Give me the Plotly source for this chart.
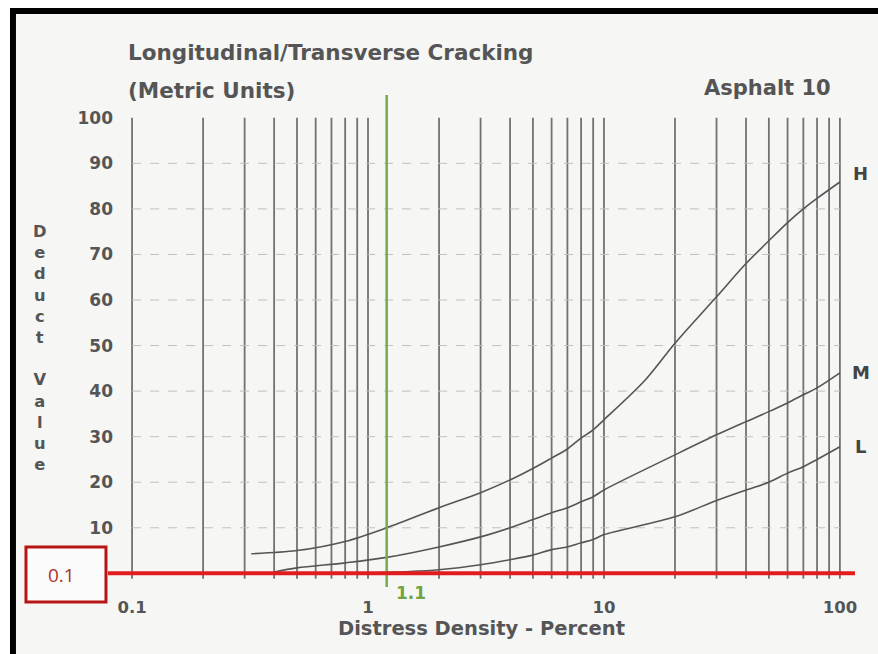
import plotly.graph_objects as go
import math

# ---- data ----
H_x = [0.32, 0.5, 0.8, 1.2, 2, 3, 4, 5, 6, 7, 8, 9, 10, 15, 20, 30, 40, 50, 60, 70, 80, 100]
H_y = [4.3, 5.0, 7.0, 10.0, 14.4, 17.7, 20.5, 23, 25.3, 27.3, 29.7, 31.5, 33.7, 42.5, 50.5, 60.7, 68, 73, 77, 80, 82.3, 85.9]
M_x = [0.4, 0.5, 0.8, 1.2, 2, 3, 4, 5, 6, 7, 8, 9, 10, 20, 30, 40, 50, 60, 70, 80, 100]
M_y = [0.3, 1.2, 2.3, 3.5, 5.8, 8, 10, 11.8, 13.3, 14.4, 15.7, 16.8, 18.3, 26, 30.4, 33.3, 35.5, 37.4, 39.2, 40.7, 44]
L_x = [1.0, 1.5, 2, 3, 4, 5, 6, 7, 8, 9, 10, 20, 30, 40, 50, 60, 70, 80, 100]
L_y = [0.1, 0.4, 0.8, 1.9, 3, 4, 5.2, 5.8, 6.7, 7.4, 8.5, 12.4, 16, 18.3, 20, 22, 23.4, 25, 27.8]

x_grid = [0.1, 0.2, 0.3, 0.4, 0.5, 0.6, 0.7, 0.8, 0.9, 1, 2, 3, 4, 5, 6, 7, 8, 9, 10,
          20, 30, 40, 50, 60, 70, 80, 90, 100]
x_tick_vals = [0.1, 1, 10, 100]
x_tick_text = ["0.1", "1", "10", "100"]
y_tick_vals = [10, 20, 30, 40, 50, 60, 70, 80, 90, 100]
y_grid = [10, 20, 30, 40, 50, 60, 70, 80, 90]

marker_x = 1.2       # green vertical line position
marker_x_label = "1.1"
marker_y = 0         # red horizontal line value
marker_y_label = "0.1"

FONT = "DejaVu Sans"
curve_color = "#555555"
grid_color = "#727272"
text_color = "#555555"

fig = go.Figure()
for xs, ys in [(H_x, H_y), (M_x, M_y), (L_x, L_y)]:
    fig.add_trace(go.Scatter(x=xs, y=ys, mode="lines",
                             line=dict(color=curve_color, width=1.6, shape="spline", smoothing=0.9),
                             showlegend=False, hoverinfo="skip"))

shapes = []
# background / frame
shapes.append(dict(type="rect", xref="paper", yref="paper", x0=-0.1232, x1=1.04, y0=-0.14, y1=1.1646,
                   fillcolor="#f6f6f4", line=dict(width=0), layer="below"))
shapes.append(dict(type="rect", xref="paper", yref="paper", x0=-0.1312, x1=-0.1232, y0=-0.14, y1=1.1768,
                   fillcolor="black", line=dict(width=0), layer="above"))
shapes.append(dict(type="rect", xref="paper", yref="paper", x0=-0.1312, x1=1.04, y0=1.1646, y1=1.1768,
                   fillcolor="black", line=dict(width=0), layer="above"))
# vertical grid
for g in x_grid:
    shapes.append(dict(type="line", xref="x", yref="y", x0=g, x1=g, y0=-1.2, y1=100,
                       line=dict(color=grid_color, width=1.8), layer="below"))
# horizontal dashed grid
for g in y_grid:
    shapes.append(dict(type="line", xref="x", yref="y", x0=0.1, x1=100, y0=g, y1=g,
                       line=dict(color="#c0c0c0", width=1, dash="dash"), layer="below"))
# green marker line
shapes.append(dict(type="line", xref="x", yref="y", x0=marker_x, x1=marker_x, y0=-3, y1=105,
                   line=dict(color="#74ad4a", width=2.5), layer="above"))
# red marker line
shapes.append(dict(type="line", xref="paper", yref="y", x0=0, x1=1, y0=marker_y, y1=marker_y,
                   line=dict(color="#e01c1c", width=4), layer="above"))
# red box
shapes.append(dict(type="rect", xref="paper", yref="paper", x0=-0.1098, x1=-0.0027, y0=-0.0305, y1=0.0813,
                   fillcolor="#fbfbfb", line=dict(color="#b81414", width=3), layer="above"))

def bold(size, color=text_color):
    return dict(family=FONT, size=size, color=color, weight="bold")

annotations = [
    dict(text="Longitudinal/Transverse Cracking", xref="paper", yref="paper", x=0.024, y=1.087,
         xanchor="left", yanchor="middle", showarrow=False, font=bold(21.5)),
    dict(text="(Metric Units)", xref="paper", yref="paper", x=0.024, y=1.010,
         xanchor="left", yanchor="middle", showarrow=False, font=bold(21.5)),
    dict(text="Asphalt 10", xref="paper", yref="paper", x=0.9705, y=1.014,
         xanchor="right", yanchor="middle", showarrow=False, font=bold(21)),
    dict(text="D<br>e<br>d<br>u<br>c<br>t<br> <br>V<br>a<br>l<br>u<br>e", xref="paper", yref="paper",
         x=-0.091, y=0.486, xanchor="center", yanchor="middle", showarrow=False, font=bold(16.3)),
    dict(text="H", xref="x", yref="y", x=math.log10(H_x[-1]), y=H_y[-1], xshift=21, yshift=9,
         xanchor="center", yanchor="middle", showarrow=False, font=bold(18, "#444")),
    dict(text="M", xref="x", yref="y", x=math.log10(M_x[-1]), y=M_y[-1], xshift=21, yshift=0,
         xanchor="center", yanchor="middle", showarrow=False, font=bold(18, "#444")),
    dict(text="L", xref="x", yref="y", x=math.log10(L_x[-1]), y=L_y[-1], xshift=21, yshift=0,
         xanchor="center", yanchor="middle", showarrow=False, font=bold(18, "#444")),
    dict(text=marker_x_label, xref="x", yref="paper", x=math.log10(marker_x), y=-0.0122, xshift=24,
         xanchor="center", yanchor="middle", showarrow=False, font=bold(17, "#6fa43f")),
    dict(text=marker_y_label, xref="paper", yref="paper", x=-0.0616, y=0.0244,
         xanchor="center", yanchor="middle", showarrow=False,
         font=dict(family="Open Sans", size=19, color="#a83030")),
]

fig.update_layout(
    width=878, height=654,
    margin=dict(l=108, r=23, t=95, b=67),
    paper_bgcolor="white", plot_bgcolor="rgba(0,0,0,0)",
    shapes=shapes, annotations=annotations,
    xaxis=dict(type="log", range=[-1.102, 2.064], showgrid=False, zeroline=False, showline=False,
               tickvals=x_tick_vals, ticktext=x_tick_text, ticks="", ticklabelstandoff=8,
               tickfont=bold(16.5),
               title=dict(text="Distress Density - Percent", standoff=5, font=bold(19.5))),
    yaxis=dict(range=[-3, 105], showgrid=False, zeroline=False, showline=False,
               tickvals=y_tick_vals, ticks="", ticklabelstandoff=-6,
               tickfont=bold(17)),
)

fig.write_html("out.html")
